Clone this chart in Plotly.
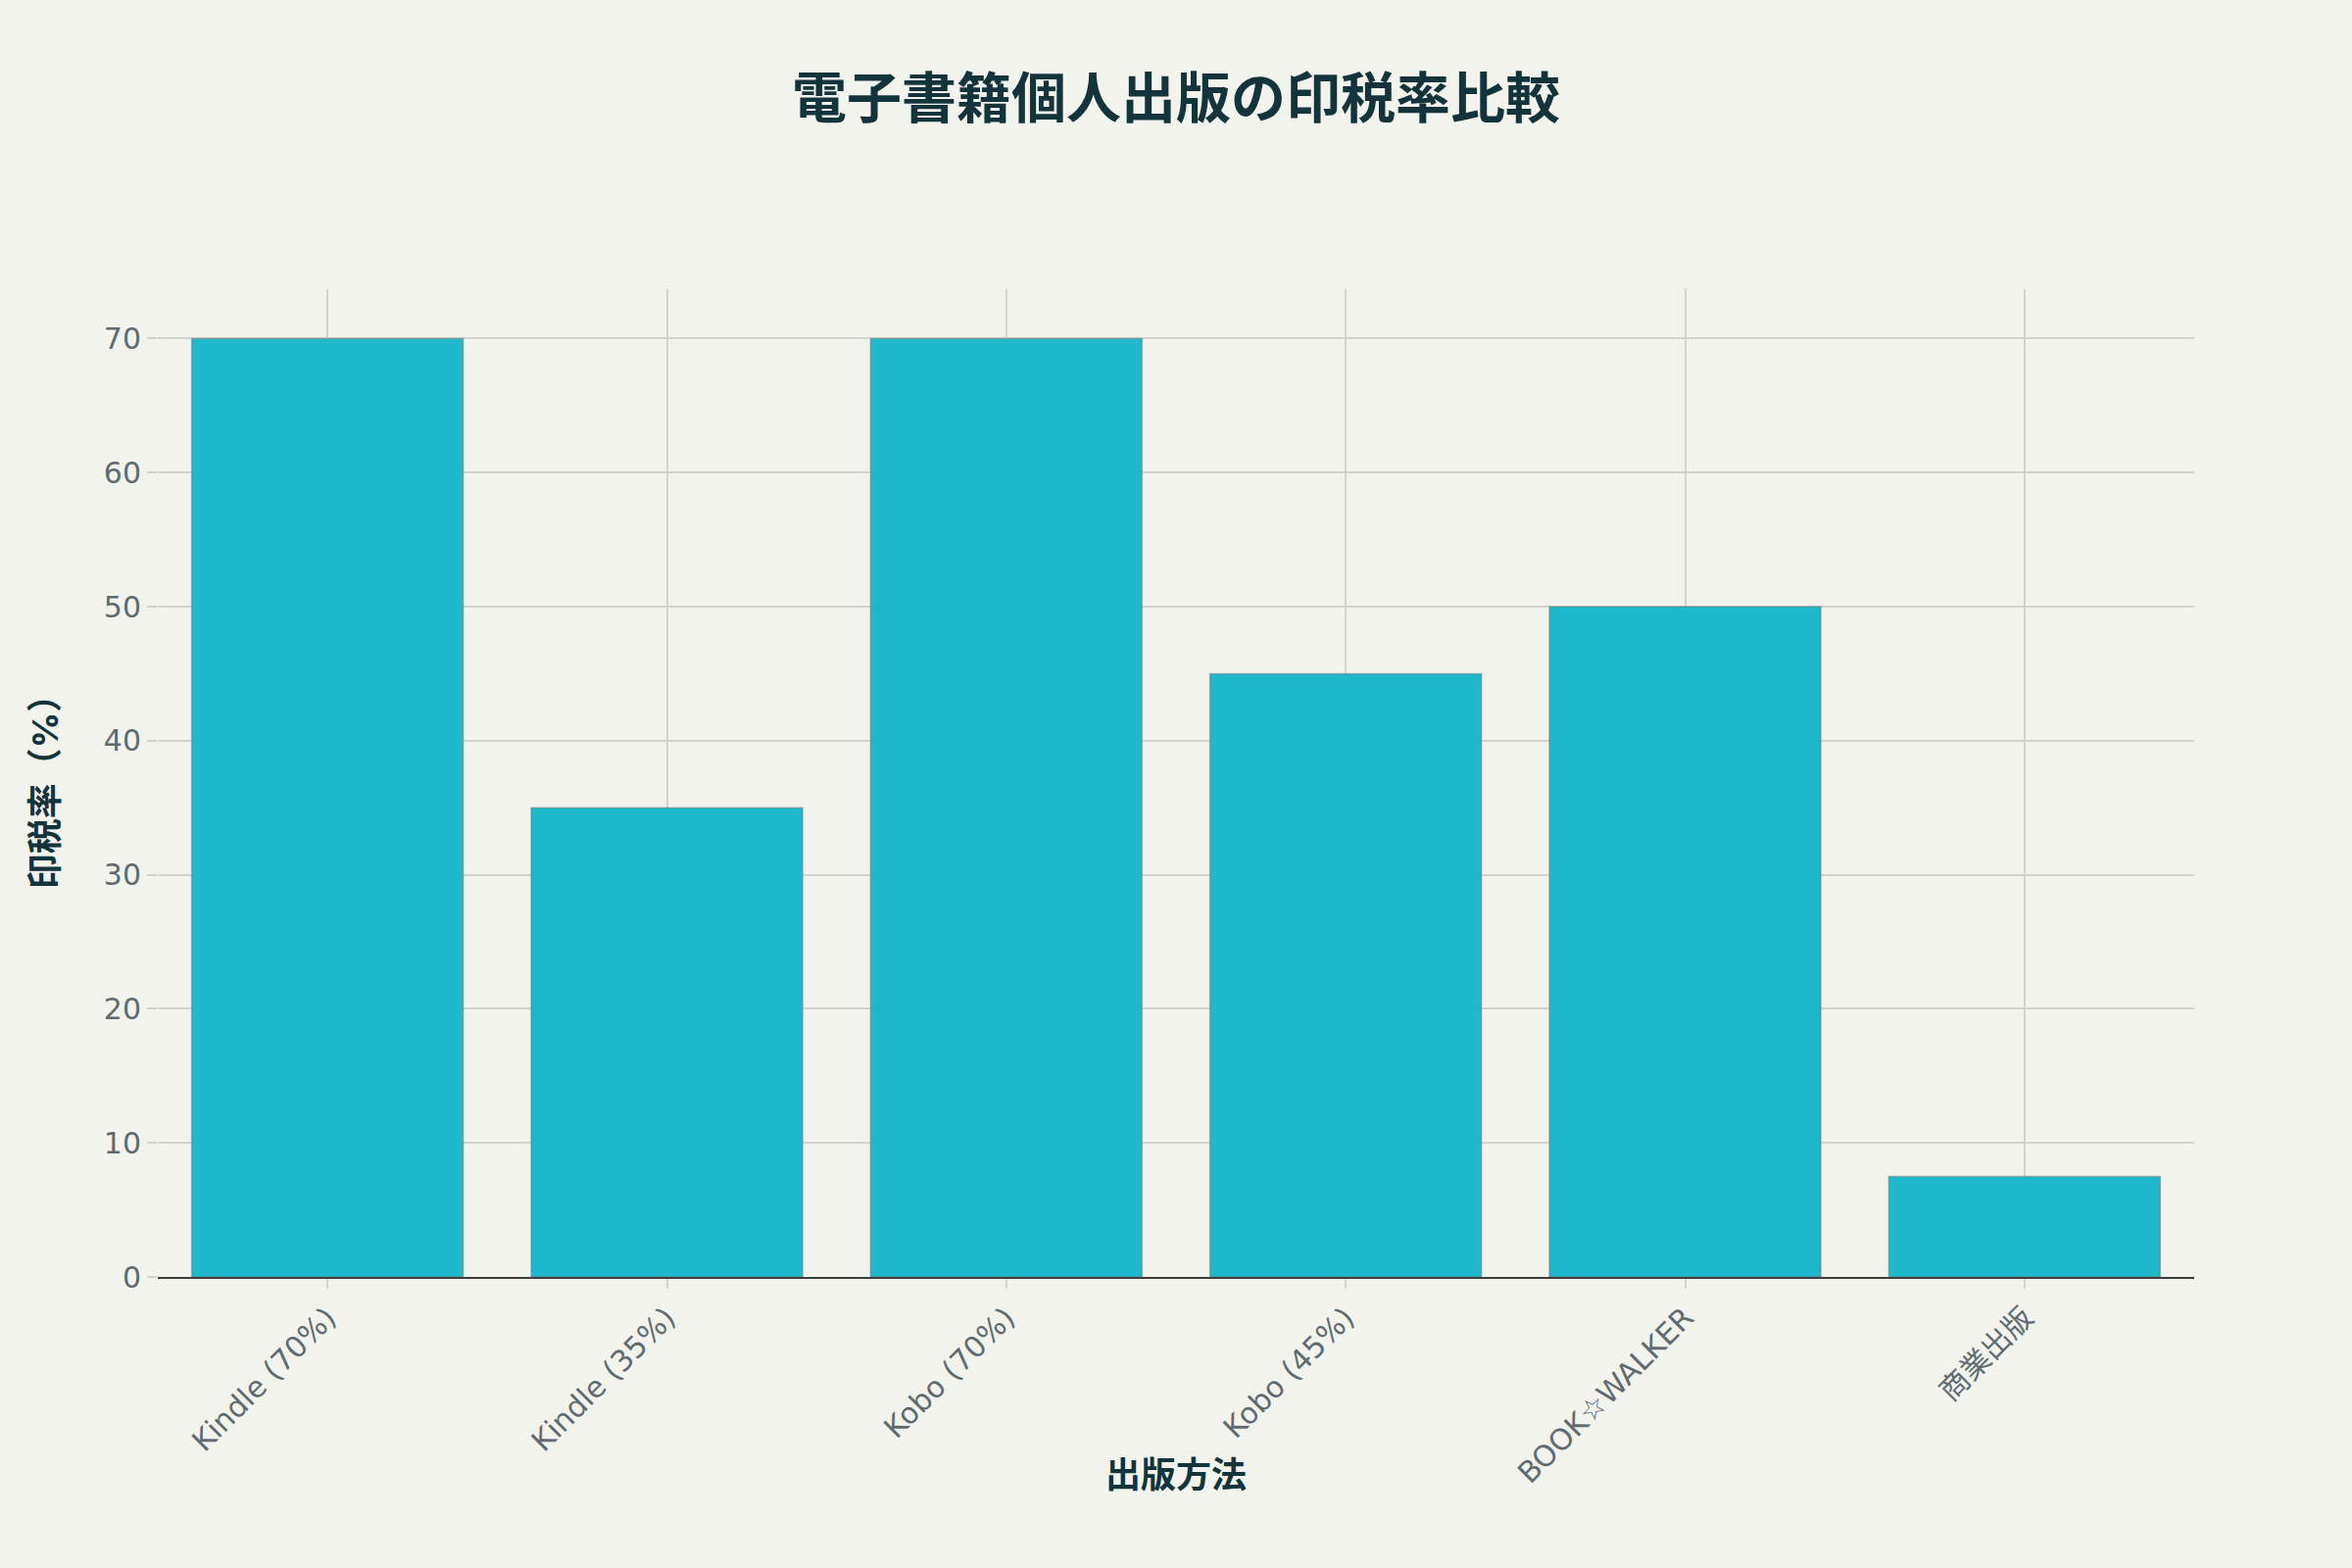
import plotly.graph_objects as go

categories = ["Kindle (70%)", "Kindle (35%)", "Kobo (70%)", "Kobo (45%)", "BOOK☆WALKER", "商業出版"]
royalty_rates = [70, 35, 70, 45, 50, 7.5]

title_text = "電子書籍個人出版の印税率比較"
x_title = "出版方法"
y_title = "印税率（%）"

FONT = "Inter, 'Noto Sans CJK JP', sans-serif"
TICK_FONT = "'DejaVu Sans', 'Noto Sans CJK JP', sans-serif"
DARK = "#13343B"
TICK = "#5F6B71"
GRID = "#D6D3CE"

fig = go.Figure(
    go.Bar(
        x=categories,
        y=royalty_rates,
        marker=dict(color="#1FB8CD", line=dict(color="rgba(110,110,110,0.45)", width=1.5)),
        showlegend=False,
    )
)

fig.update_layout(
    paper_bgcolor="#F3F3EE",
    plot_bgcolor="#F3F3EE",
    font=dict(family=FONT, size=28, color=TICK),
    title=dict(
        text="<b>" + title_text + "</b>",
        x=0.5, xanchor="center", y=0.9375, yanchor="middle",
        font=dict(family=FONT, size=56, color=DARK),
    ),
    margin=dict(l=161, r=161, t=295, b=297),
    bargap=0.2,
)

# x-axis title placed as a paper-anchored label below the rotated tick labels
fig.add_annotation(
    text="<b>" + x_title + "</b>",
    xref="paper", yref="paper", x=0.5, y=-0.2,
    xanchor="center", yanchor="middle", showarrow=False,
    font=dict(family=FONT, size=36, color=DARK),
)

fig.update_xaxes(
    tickangle=-45,
    tickfont=dict(family=TICK_FONT, size=30, color=TICK),
    showgrid=True, gridcolor=GRID, gridwidth=1.5,
    ticks="outside", ticklen=10, tickcolor=GRID, tickwidth=1.5,
    showline=True, linecolor="#3D3D3D", linewidth=2,
    automargin=False,
)
fig.update_yaxes(
    title=dict(text="<b>" + y_title + "</b>", font=dict(family=FONT, size=36, color=DARK), standoff=35),
    tickfont=dict(family=TICK_FONT, size=30, color=TICK),
    showgrid=True, gridcolor=GRID, gridwidth=1.5,
    ticks="outside", ticklen=10, tickcolor=GRID, tickwidth=1.5,
    zeroline=False, showline=False,
    dtick=10,
    automargin=False,
)

post = (
    "document.documentElement.style.margin='0';"
    "document.body.style.margin='0';"
    "document.documentElement.style.height='100%';"
    "document.body.style.height='100%';"
    "document.body.style.overflow='hidden';"
    "var gd=document.getElementById('{plot_id}');"
    "Plotly.Plots.resize(gd);"
)

fig.write_html("out.html", post_script=post, config={"displayModeBar": False})
